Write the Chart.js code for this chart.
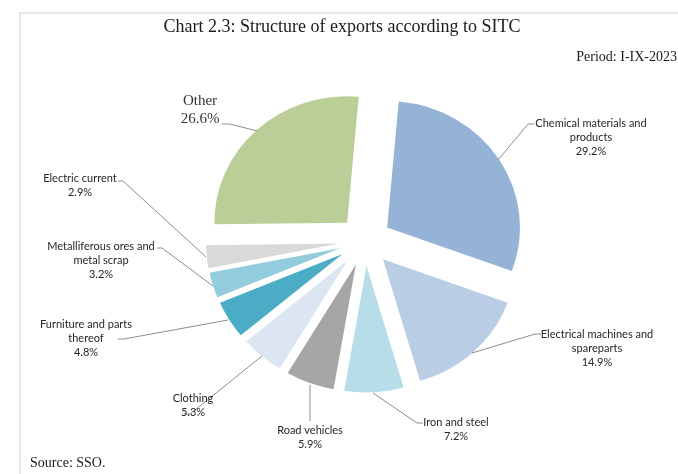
<!DOCTYPE html>
<html>
<head>
<meta charset="utf-8">
<script src="https://cdn.jsdelivr.net/npm/chart.js@4.4.0/dist/chart.umd.min.js"></script>
<style>
  html, body { margin: 0; padding: 0; background: #fff; }
  #wrap { position: relative; width: 678px; height: 474px; overflow: hidden; }
  #frame { position: absolute; left: 19px; top: 12px; width: 720px; height: 520px;
           border-top: 2px solid #e6e6e6; border-left: 2px solid #e6e6e6; }
  canvas { position: absolute; left: 0; top: 0; }
</style>
</head>
<body>
<div id="wrap">
  <div id="frame"></div>
  <canvas id="pie" width="678" height="474"></canvas>
</div>
<script>
// ===== Data =====
const CATEGORIES = [
  "Chemical materials and products",
  "Electrical machines and spare parts",
  "Iron and steel",
  "Road vehicles",
  "Clothing",
  "Furniture and parts thereof",
  "Metalliferous ores and metal scrap",
  "Electric current",
  "Other"
];
const SHARES = [29.2, 14.9, 7.2, 5.9, 5.3, 4.8, 3.2, 2.9, 26.6];
// label text as it wraps in the picture
const LABEL_LINES = [
  ["Chemical materials and", "products"],
  ["Electrical machines and", "spareparts"],
  ["Iron and steel"],
  ["Road vehicles"],
  ["Clothing"],
  ["Furniture and parts", "thereof"],
  ["Metalliferous ores and", "metal scrap"],
  ["Electric current"],
  ["Other"]
];
const COLORS = ["#95b3d7","#b9cde5","#b7dee8","#a6a6a6","#dce6f2",
                "#4bacc6","#93cddd","#d9d9d9","#bbce97"];

// ===== Layout =====
const EXPLODE = 25;      // px each slice is pulled out
const STRETCH_X = 1.05;  // picture is slightly wider than tall
// label centre x, first line y, leader polyline (slice -> text)
const LABEL_POS = [
  { x: 591, y: 123, line: [[498,160],[528,124],[534,124]] },
  { x: 597, y: 334, line: [[472,353],[535,334],[541,334]] },
  { x: 456, y: 422, line: [[373,393],[417,423],[423,423]] },
  { x: 310, y: 430, line: [[310,385],[310,421]] },
  { x: 193, y: 398, line: [[262,356],[190,414],[184,414]] },
  { x: 86,  y: 324, line: [[228,320],[124,339],[118,339]] },
  { x: 101, y: 246, line: [[213,286],[162,248],[157,248]] },
  { x: 80,  y: 178, line: [[206,257],[123,181],[118,181]] },
  { x: 200, y: 101, line: [[257,131],[230,124],[222,124]], serif: true }
];

const SANS = '11px Lato, "Noto Sans", sans-serif';
const SERIF = '"Liberation Serif", "DejaVu Serif", serif';

// ===== Plugins =====
const explodePlugin = {
  id: 'explode',
  beforeDatasetDraw(chart, args) {
    const ctx = chart.ctx;
    const arcs = args.meta.data;
    const cx = arcs[0].x, cy = arcs[0].y;
    ctx.save();
    ctx.translate(cx, cy); ctx.scale(STRETCH_X, 1); ctx.translate(-cx, -cy);
    arcs.forEach(arc => {
      const mid = (arc.startAngle + arc.endAngle) / 2;
      ctx.save();
      ctx.translate(Math.cos(mid) * EXPLODE, Math.sin(mid) * EXPLODE);
      arc.draw(ctx);
      ctx.restore();
    });
    ctx.restore();
    return false;
  }
};

const textPlugin = {
  id: 'texts',
  afterDraw(chart) {
    const ctx = chart.ctx;
    ctx.save();
    ctx.fillStyle = '#1a1a1a';
    ctx.textBaseline = 'middle';

    // titles
    ctx.textAlign = 'center';
    ctx.font = '18px ' + SERIF;
    ctx.fillText('Chart 2.3: Structure of exports according to SITC', 342, 27);
    ctx.textAlign = 'right';
    ctx.font = '14px ' + SERIF;
    ctx.fillText('Period: I-IX-2023', 677, 57);
    ctx.textAlign = 'left';
    ctx.fillText('Source: SSO.', 30, 463);

    // leader lines
    ctx.strokeStyle = '#8c8c8c';
    ctx.lineWidth = 1;
    LABEL_POS.forEach(p => {
      ctx.beginPath();
      p.line.forEach(([x, y], i) => i ? ctx.lineTo(x, y) : ctx.moveTo(x, y));
      ctx.stroke();
    });

    // data labels
    ctx.textAlign = 'center';
    LABEL_POS.forEach((p, i) => {
      const lines = LABEL_LINES[i].concat(SHARES[i].toFixed(1) + '%');
      if (p.serif) {
        ctx.font = '15px ' + SERIF;
        ctx.fillStyle = '#333';
        lines.forEach((t, k) => ctx.fillText(t, p.x, p.y + k * 18));
      } else {
        ctx.font = SANS;
        ctx.fillStyle = '#262626';
        lines.forEach((t, k) => ctx.fillText(t, p.x, p.y + k * 14));
      }
    });
    ctx.restore();
  }
};

// ===== Chart =====
new Chart(document.getElementById('pie'), {
  type: 'pie',
  data: {
    labels: CATEGORIES,
    datasets: [{ data: SHARES, backgroundColor: COLORS, borderWidth: 0 }]
  },
  options: {
    responsive: false,
    animation: false,
    rotation: 5,
    radius: 126.5,
    layout: { padding: { left: 150, right: 98, top: 60, bottom: 52 } },
    plugins: { legend: { display: false }, tooltip: { enabled: false } }
  },
  plugins: [explodePlugin, textPlugin]
});
</script>
</body>
</html>
